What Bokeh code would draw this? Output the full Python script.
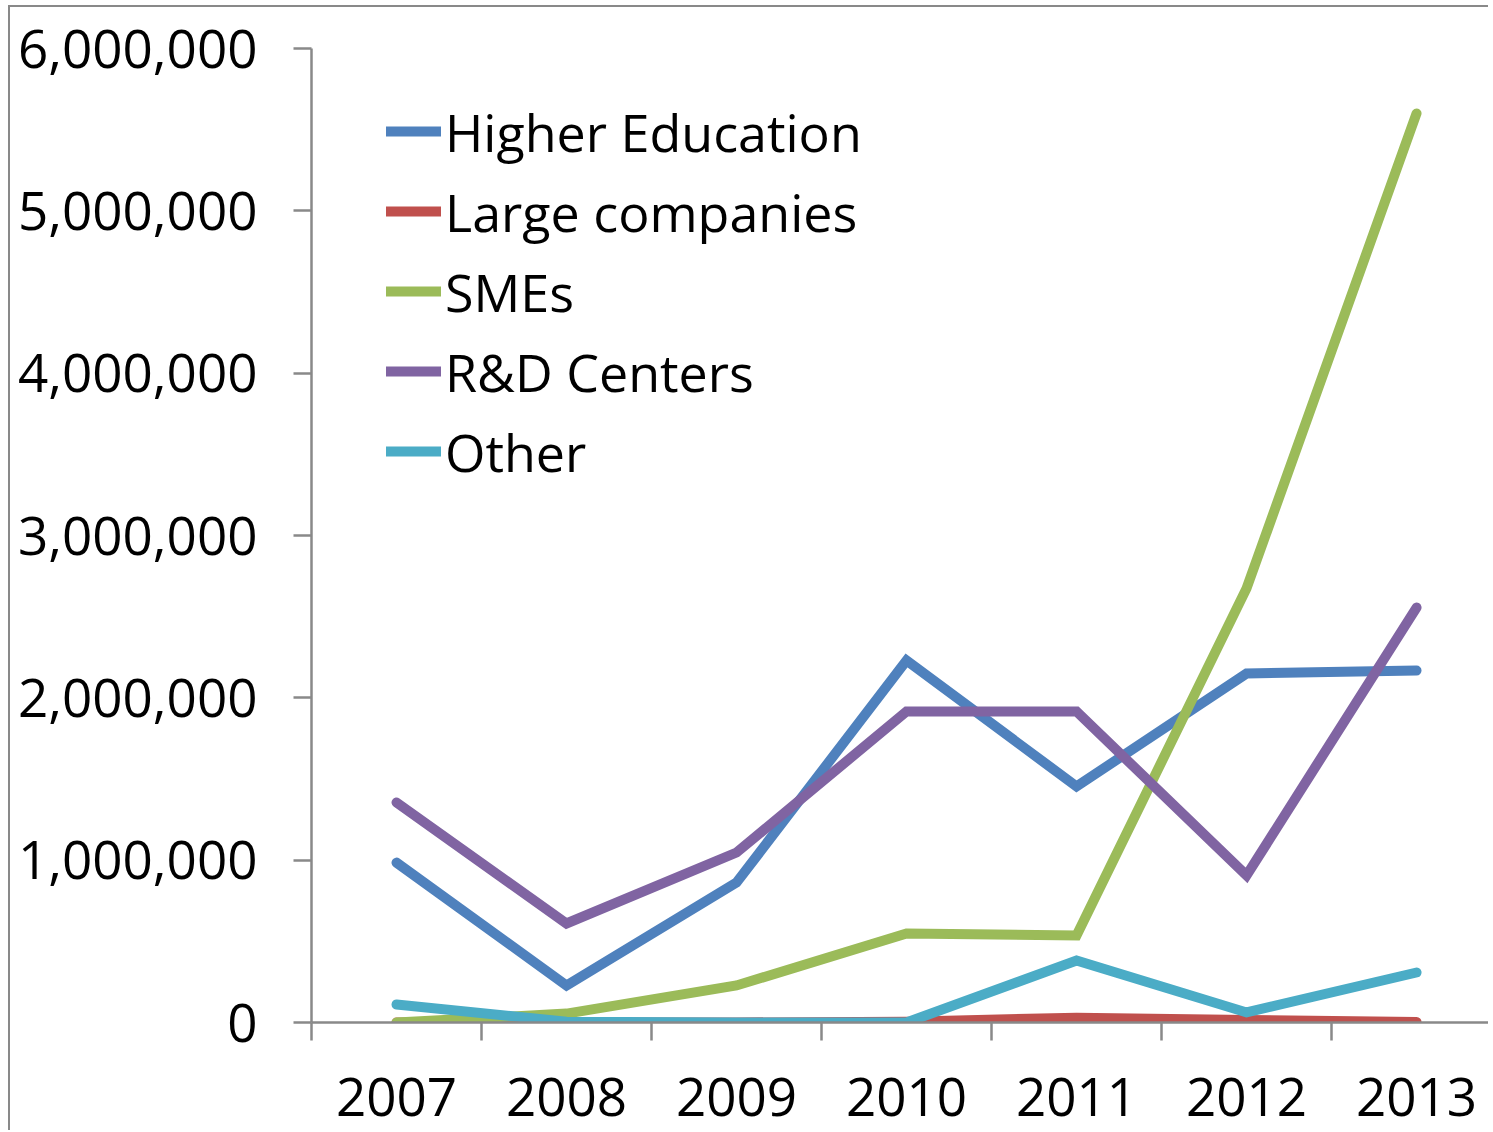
from bokeh.plotting import figure
from bokeh.models import Range1d, FixedTicker, NumeralTickFormatter, Legend, LegendItem
from bokeh.embed import file_html
from bokeh.resources import INLINE

years = [2007, 2008, 2009, 2010, 2011, 2012, 2013]
higher_education = [985000, 228000, 862000, 2230000, 1454000, 2150000, 2168000]
large_companies = [0, 0, 0, 5000, 30000, 15000, 3000]
smes = [0, 55000, 228000, 548000, 536000, 2674000, 5600000]
rd_centers = [1355000, 610000, 1047000, 1916000, 1916000, 906000, 2556000]
other = [111000, 5000, 0, 0, 382000, 62000, 308000]

series_names = ["Higher Education", "Large companies", "SMEs", "R&D Centers", "Other"]
series_values = [higher_education, large_companies, smes, rd_centers, other]
colors = ["#4F81BD", "#C0504D", "#9BBB59", "#8064A2", "#4BACC6"]
y_ticks = [0, 1000000, 2000000, 3000000, 4000000, 5000000, 6000000]

FONT = "Open Sans"
AXIS_COLOR = "#898989"

p = figure(width=1480, height=1125, output_backend="svg", toolbar_location=None,
           x_range=Range1d(2006.5, 2013.435), y_range=Range1d(0, 6000000),
           min_border_left=301, min_border_right=0, min_border_top=41, min_border_bottom=110,
           styles={"margin-left": "8px", "margin-top": "5px",
                   "border-left": "2px solid #898989", "border-top": "2px solid #898989"})
p.outline_line_color = None
p.xgrid.visible = False
p.ygrid.visible = False
p.background_fill_color = "white"
p.border_fill_color = "white"

renderers = []
for name, vals, c in zip(series_names, series_values, colors):
    r = p.line(years, vals, line_color=c, line_width=10, line_cap="round", line_join="miter")
    renderers.append((name, r))

# y axis
ya = p.yaxis[0]
ya.ticker = FixedTicker(ticks=y_ticks)
ya.formatter = NumeralTickFormatter(format="0,0")
ya.axis_line_color = AXIS_COLOR
ya.axis_line_width = 2.5
ya.major_tick_line_color = AXIS_COLOR
ya.major_tick_line_width = 2.5
ya.major_tick_in = 0
ya.major_tick_out = 18
ya.minor_tick_line_color = None
ya.major_label_standoff = 36
ya.major_label_text_font = FONT
ya.major_label_text_font_size = "53px"
ya.major_label_text_color = "black"

# x axis: labels at year centres, category boundary ticks as minor ticks
boundaries = [y - 0.5 for y in years] + [years[-1] + 0.5]
xa = p.xaxis[0]
xa.ticker = FixedTicker(ticks=years, minor_ticks=boundaries)
xa.axis_line_color = AXIS_COLOR
xa.axis_line_width = 2.5
xa.major_tick_line_color = None
xa.major_tick_in = 0
xa.major_tick_out = 0
xa.minor_tick_line_color = AXIS_COLOR
xa.minor_tick_line_width = 2.5
xa.minor_tick_in = 0
xa.minor_tick_out = 18
xa.major_label_standoff = 37
xa.major_label_text_font = FONT
xa.major_label_text_font_size = "53px"
xa.major_label_text_color = "black"

legend = Legend(items=[LegendItem(label=n, renderers=[r]) for n, r in renderers],
                location=(75, 531), orientation="vertical",
                glyph_width=55, glyph_height=80, spacing=0, padding=0, margin=0,
                label_standoff=4, label_text_font=FONT, label_text_font_size="52px",
                label_text_color="black", label_text_baseline="middle",
                border_line_color=None, background_fill_alpha=0)
p.add_layout(legend, "center")

open("out.html", "w").write(file_html(p, INLINE))
